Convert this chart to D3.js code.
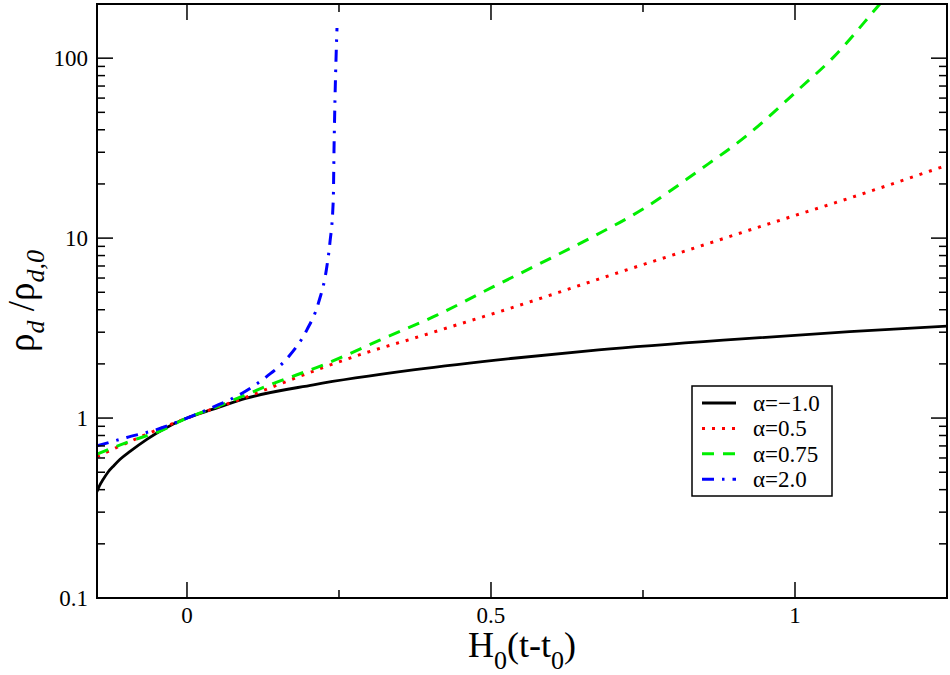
<!DOCTYPE html>
<html>
<head>
<meta charset="utf-8">
<script src="https://cdn.jsdelivr.net/npm/d3@7"></script>
<style>
  body { margin: 0; background: #fff; }
</style>
</head>
<body>
<svg id="chart"></svg>
<script>
// values: x is H0(t-t0), y is rho_d / rho_d,0
const blackT = [-0.148, -0.144, -0.138, -0.13, -0.12, -0.11, -0.093, -0.066, -0.038, 0, 0.043, 0.098, 0.208, 0.372, 0.537, 0.677, 0.882, 1.09, 1.25]
const blackRho = [0.39, 0.42, 0.455, 0.50, 0.545, 0.59, 0.655, 0.762, 0.87, 1.0, 1.12, 1.29, 1.53, 1.85, 2.15, 2.39, 2.71, 3.02, 3.24]

const redT = [-0.148, -0.118, -0.06, 0, 0.101, 0.134, 0.213, 0.293, 0.372, 0.452, 0.531, 0.611, 0.677, 0.819, 0.95, 1.09, 1.25]
const redRho = [0.61, 0.68, 0.83, 1.0, 1.32, 1.46, 1.85, 2.30, 2.77, 3.36, 4.07, 4.99, 5.92, 8.47, 11.8, 16.7, 25.4]

const greenT = [-0.148, -0.093, -0.044, 0, 0.049, 0.1365, 0.23, 0.317, 0.411, 0.504, 0.592, 0.668, 0.75, 0.84, 0.92, 1.008, 1.063, 1.135, 1.15]
const greenRho = [0.63, 0.745, 0.847, 1.0, 1.156, 1.53, 2.01, 2.71, 3.73, 5.37, 7.55, 10.2, 14.5, 23.5, 37, 68, 101, 192, 220]

const blueT = [-0.148, -0.099, -0.049, 0, 0.043, 0.09, 0.131, 0.167, 0.197, 0.216, 0.23, 0.235, 0.2406, 0.2418, 0.2434, 0.2467]
const blueRho = [0.70, 0.78, 0.865, 1.0, 1.15, 1.37, 1.70, 2.19, 3.08, 4.34, 6.93, 9.38, 16.3, 30.8, 58.4, 147]

const legendLabels = ['α=−1.0', 'α=0.5', 'α=0.75', 'α=2.0']
const xTicks = [0, 0.5, 1]
const xTickLabels = ['0', '0.5', '1']
const yTicks = [0.1, 1, 10, 100]
const yTickLabels = ['0.1', '1', '10', '100']

const width = 950
const height = 675
const margin = {left: 97, right: 3, top: 4, bottom: 77}
const majorTick = 16
const minorTick = 8
const serif = "'Liberation Serif', 'Times New Roman', Times, serif"

const svg = d3.select('#chart')
  .attr('width', width).attr('height', height)
  .attr('font-family', serif)
  .style('display', 'block')

const x = d3.scaleLinear().domain([-0.148, 1.25]).range([margin.left, width - margin.right])
const y = d3.scaleLog().domain([0.1, 200]).range([height - margin.bottom, margin.top])
const [x0, x1] = x.range()
const [y0, y1] = y.range() // y0 bottom, y1 top

const series = [
  {t: blackT, rho: blackRho, color: '#000', dash: null, width: 2.8},
  {t: redT, rho: redRho, color: '#ff0000', dash: '3,7', width: 3},
  {t: greenT, rho: greenRho, color: '#00ee00', dash: '12,9', width: 3},
  {t: blueT, rho: blueRho, color: '#0000ff', dash: '12,8,2.5,8', width: 3}
]

svg.append('clipPath').attr('id', 'plot-clip')
  .append('rect')
  .attr('x', x0).attr('y', y1)
  .attr('width', x1 - x0).attr('height', y0 - y1)

const line = d3.line()
  .x(d => x(d[0]))
  .y(d => y(d[1]))
  .curve(d3.curveMonotoneX)

const plot = svg.append('g').attr('clip-path', 'url(#plot-clip)')
series.forEach(s => {
  plot.append('path')
    .datum(s.t.map((t, i) => [t, s.rho[i]]))
    .attr('d', line)
    .attr('fill', 'none')
    .attr('stroke', s.color)
    .attr('stroke-width', s.width)
    .attr('stroke-dasharray', s.dash)
})

// ticks, mirrored on all four sides and pointing inward
const ticks = svg.append('g').attr('stroke', '#000').attr('stroke-width', 1.5)
const xMinor = d3.range(-0.25, 1.3, 0.25).filter(v => !xTicks.includes(v) && v > -0.148 && v < 1.25)
const yMinor = []
yTicks.forEach(d => d3.range(2, 10).forEach(m => { if (d * m < 200) yMinor.push(d * m) }))

function xTick (v, len) {
  ticks.append('line').attr('x1', x(v)).attr('x2', x(v)).attr('y1', y0).attr('y2', y0 - len)
  ticks.append('line').attr('x1', x(v)).attr('x2', x(v)).attr('y1', y1).attr('y2', y1 + len)
}
function yTick (v, len) {
  ticks.append('line').attr('y1', y(v)).attr('y2', y(v)).attr('x1', x0).attr('x2', x0 + len)
  ticks.append('line').attr('y1', y(v)).attr('y2', y(v)).attr('x1', x1).attr('x2', x1 - len)
}
xTicks.forEach(v => xTick(v, majorTick))
xMinor.forEach(v => xTick(v, minorTick))
yTicks.forEach(v => yTick(v, majorTick))
yMinor.forEach(v => yTick(v, minorTick))

svg.append('rect')
  .attr('x', x0).attr('y', y1)
  .attr('width', x1 - x0).attr('height', y0 - y1)
  .attr('fill', 'none').attr('stroke', '#000').attr('stroke-width', 2)

svg.append('g').selectAll('text').data(xTicks).join('text')
  .attr('x', d => x(d)).attr('y', y0 + 25)
  .attr('text-anchor', 'middle').attr('font-size', 23)
  .text((d, i) => xTickLabels[i])

svg.append('g').selectAll('text').data(yTicks).join('text')
  .attr('x', x0 - 9).attr('y', d => y(d)).attr('dy', '0.34em')
  .attr('text-anchor', 'end').attr('font-size', 23)
  .text((d, i) => yTickLabels[i])

// axis titles
const xTitle = svg.append('text')
  .attr('x', (x0 + x1) / 2).attr('y', 657)
  .attr('text-anchor', 'middle').attr('font-size', 36)
xTitle.append('tspan').text('H')
xTitle.append('tspan').attr('font-size', 26).attr('dy', 12).text('0')
xTitle.append('tspan').attr('dy', -12).text('(t-t')
xTitle.append('tspan').attr('font-size', 26).attr('dy', 12).text('0')
xTitle.append('tspan').attr('dy', -12).text(')')

const yTitle = svg.append('text')
  .attr('transform', `translate(34, ${(y0 + y1) / 2}) rotate(-90)`)
  .attr('text-anchor', 'middle').attr('font-size', 37)
yTitle.append('tspan').text('ρ')
yTitle.append('tspan').attr('font-size', 26).attr('font-style', 'italic').attr('dy', 10).text('d')
yTitle.append('tspan').attr('dy', -10).text(' /ρ')
yTitle.append('tspan').attr('font-size', 26).attr('font-style', 'italic').attr('dy', 10).text('d,0')

// legend
const legend = svg.append('g')
legend.append('rect')
  .attr('x', 692).attr('y', 386).attr('width', 140).attr('height', 110)
  .attr('fill', '#fff').attr('stroke', '#000').attr('stroke-width', 1.5)
series.forEach((s, i) => {
  const ly = 403 + i * 25.4
  legend.append('line')
    .attr('x1', 702).attr('x2', 736).attr('y1', ly).attr('y2', ly)
    .attr('stroke', s.color).attr('stroke-width', s.width)
    .attr('stroke-dasharray', s.dash)
  legend.append('text')
    .attr('x', 753).attr('y', ly + 8).attr('font-size', 23)
    .text(legendLabels[i])
})
</script>
</body>
</html>
